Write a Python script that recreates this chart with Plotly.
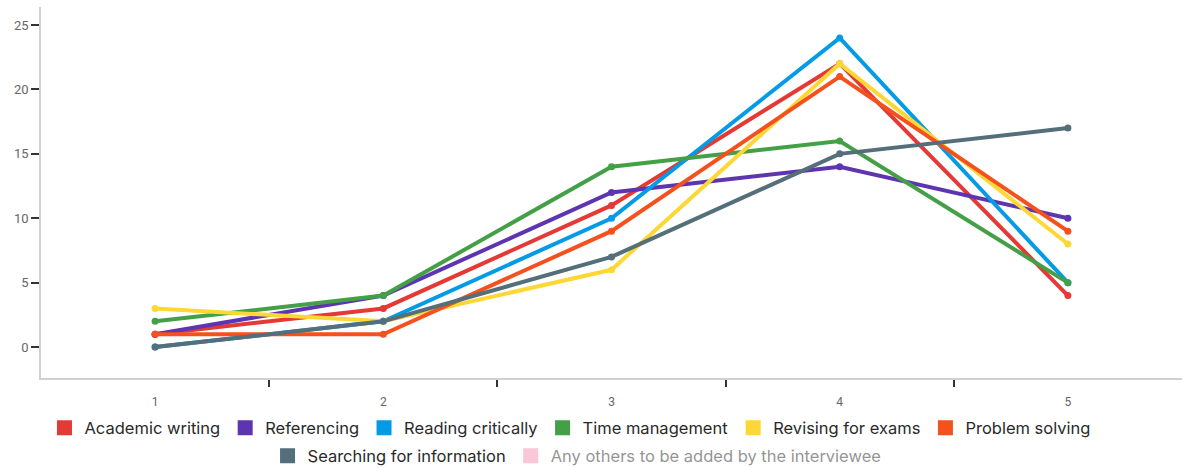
import plotly.graph_objects as go

# Survey responses per rating (1-5) for each study skill
ratings = [1, 2, 3, 4, 5]

academic_writing = [1, 3, 11, 22, 4]
referencing = [1, 4, 12, 14, 10]
reading_critically = [0, 2, 10, 24, 5]
time_management = [2, 4, 14, 16, 5]
revising_for_exams = [3, 2, 6, 22, 8]
problem_solving = [1, 1, 9, 21, 9]
searching_for_information = [0, 2, 7, 15, 17]
any_others = [None, None, None, None, None]

series = [
    ("Academic writing", academic_writing, "#e53935", True, "legend"),
    ("Referencing", referencing, "#5e35b1", True, "legend"),
    ("Reading critically", reading_critically, "#039be5", True, "legend"),
    ("Time management", time_management, "#43a047", True, "legend"),
    ("Revising for exams", revising_for_exams, "#fdd835", True, "legend"),
    ("Problem solving", problem_solving, "#f4511e", True, "legend"),
    ("Searching for information", searching_for_information, "#546e7a", True, "legend2"),
    ("Any others to be added by the interviewee", any_others, "#f48fb1", False, "legend2"),
]

fig = go.Figure()

for name, values, color, shown, legend_id in series:
    vis = True if shown else "legendonly"
    # the line itself
    fig.add_trace(go.Scatter(
        x=ratings, y=values, name=name, mode="lines+markers",
        line=dict(color=color, width=4),
        marker=dict(color=color, size=7),
        legendgroup=name, showlegend=False, visible=vis,
    ))
    # square swatch for the legend
    fig.add_trace(go.Scatter(
        x=[None], y=[None], name=name, mode="markers",
        marker=dict(color=color, size=15, symbol="square"),
        legendgroup=name, showlegend=True, visible=vis, legend=legend_id,
    ))

legend_common = dict(
    orientation="h", xanchor="center", yanchor="middle", yref="container",
    font=dict(family="Inter, Roboto, Arial, sans-serif", size=16.5, color="#2a2a2a"),
    itemsizing="trace", bgcolor="rgba(0,0,0,0)",
)

fig.update_layout(
    width=1184, height=468,
    margin=dict(l=41, r=2, t=7, b=90, autoexpand=False),
    paper_bgcolor="white", plot_bgcolor="white",
    font=dict(family="Roboto, Arial, sans-serif"),
    legend=dict(x=0.4636, y=1 - 428 / 468, **legend_common),
    legend2=dict(x=0.4698, y=1 - 456 / 468, **legend_common),
    xaxis=dict(
        range=[0.5, 5.5], tickmode="array", tickvals=ratings,
        ticktext=[str(r) for r in ratings],
        ticks="outside", ticklen=12, tickcolor="rgba(0,0,0,0)",
        tickfont=dict(size=12, color="#666666"),
        showgrid=False, zeroline=False,
        showline=True, linecolor="#d0d0d0", linewidth=1.5,
        minor=dict(tickmode="array", tickvals=[1.5, 2.5, 3.5, 4.5],
                   ticks="outside", ticklen=7, tickcolor="#333333", tickwidth=1.5),
    ),
    yaxis=dict(
        range=[-2.4, 26.4], tickmode="array", tickvals=[0, 5, 10, 15, 20, 25],
        ticks="outside", ticklen=8, tickcolor="#333333", tickwidth=1.5,
        tickfont=dict(size=13, color="#666666"),
        showgrid=False, zeroline=False,
        showline=True, linecolor="#d0d0d0", linewidth=1.5,
    ),
)

fig.write_html("out.html")
